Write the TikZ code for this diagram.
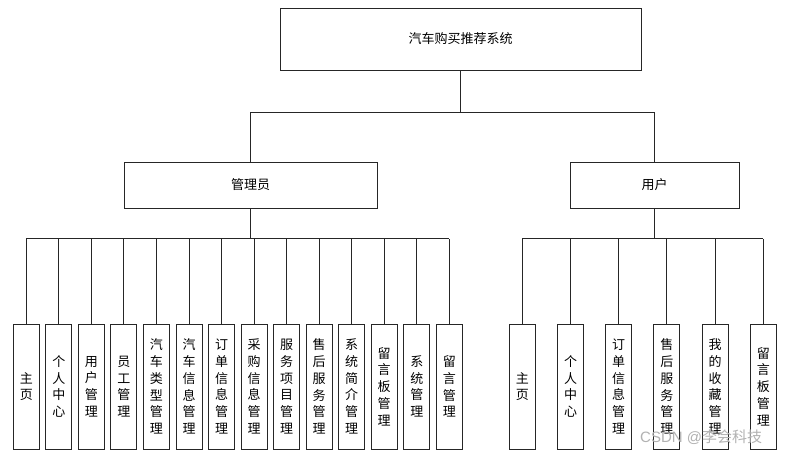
\documentclass[tikz,border=0pt]{standalone}
\usepackage{fontspec}
\newfontfamily\cjk{Noto Sans CJK SC}
\newfontfamily\wmfont{Liberation Sans}
\begin{document}
\begin{tikzpicture}[x=1pt,y=-1pt,
  box/.style={draw=black!85,line width=0.9pt,fill=white,rectangle,inner sep=0pt,
    font=\cjk\fontsize{13}{16.7}\selectfont},
  leaf/.style={box,minimum width=26pt,minimum height=125pt,align=center},
  conn/.style={draw=black!85,line width=0.9pt}]
\useasboundingbox (0,0) rectangle (791,455);
\fill[white] (0,0) rectangle (791,455);
% top levels
\node[box,minimum width=361pt,minimum height=62pt] (top) at (460.5,39) {汽车购买推荐系统};
\node[box,minimum width=253pt,minimum height=46pt] (admin) at (250.5,185) {管理员};
\node[box,minimum width=169pt,minimum height=46pt] (user) at (654.5,185) {用户};
\coordinate (bus1) at (0,112.5);
\coordinate (bus2) at (0,238.5);
% admin children
\foreach \i/\t in {0/主\\页,1/个\\人\\中\\心,2/用\\户\\管\\理,3/员\\工\\管\\理,
  4/汽\\车\\类\\型\\管\\理,5/汽\\车\\信\\息\\管\\理,6/订\\单\\信\\息\\管\\理,
  7/采\\购\\信\\息\\管\\理,8/服\\务\\项\\目\\管\\理,9/售\\后\\服\\务\\管\\理,
  10/系\\统\\简\\介\\管\\理,11/留\\言\\板\\管\\理,12/系\\统\\管\\理,13/留\\言\\管\\理}
  \node[leaf] (a\i) at ({26.3+32.54*\i},386.5) {\t};
% user children
\foreach \i/\t in {0/主\\页,1/个\\人\\中\\心,2/订\\单\\信\\息\\管\\理,
  3/售\\后\\服\\务\\管\\理,4/我\\的\\收\\藏\\管\\理,5/留\\言\\板\\管\\理}
  \node[leaf] (u\i) at ({522.3+48.2*\i},386.5) {\t};
% connectors
\draw[conn] (top.south) -- (top.south |- bus1);
\draw[conn] (admin.north) |- (bus1 -| user.north) -- (user.north);
\draw[conn] (admin.south) -- (admin.south |- bus2);
\draw[conn] (user.south) -- (user.south |- bus2);
\draw[conn] (a0.north |- bus2) -- (a13.north |- bus2);
\draw[conn] (u0.north |- bus2) -- (u5.north |- bus2);
\foreach \i in {0,...,13} \draw[conn] (a\i.north) -- (a\i.north |- bus2);
\foreach \i in {0,...,5} \draw[conn] (u\i.north) -- (u\i.north |- bus2);
% watermark
\node[anchor=base west,inner sep=0pt,text=black!30,font=\wmfont\fontsize{15}{15}\selectfont] (wm) at (640,442) {CSDN @{\cjk 李会科技}};
\end{tikzpicture}
\end{document}
